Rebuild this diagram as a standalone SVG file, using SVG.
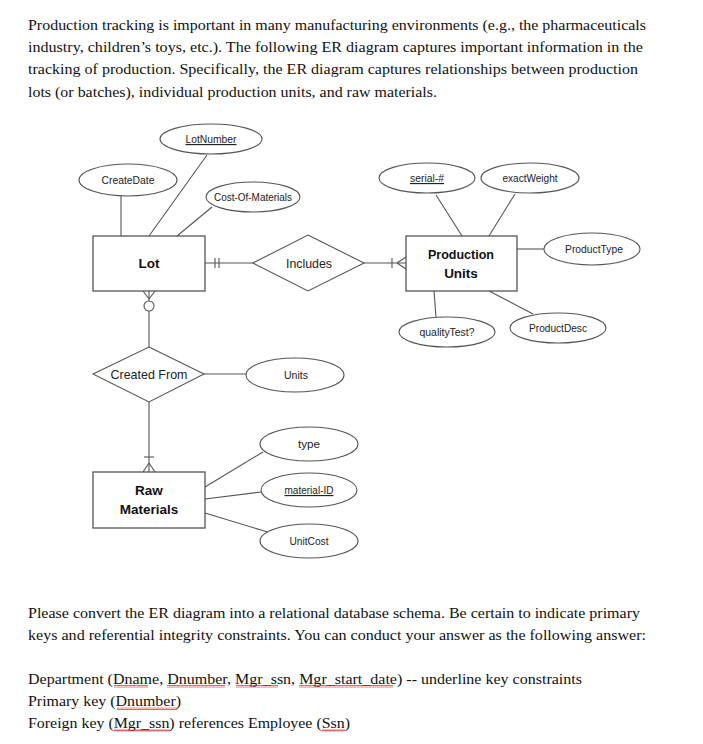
<svg xmlns="http://www.w3.org/2000/svg" width="703" height="744" viewBox="0 0 703 744">
<style>
.para{font-family:"Liberation Serif","Times New Roman",serif;font-size:15px;fill:#111}
.attr{fill:#fff;stroke:#555;stroke-width:1.1}
.ent{fill:#fff;stroke:#555;stroke-width:1.3}
.rel{fill:#fff;stroke:#555;stroke-width:1.1}
.conn line,.conn path{stroke:#555;stroke-width:1.1;fill:none}
.conn circle{fill:#fff;stroke:#555;stroke-width:1.1}
.at{font-family:"Liberation Sans",Arial,sans-serif;font-size:11.5px;fill:#222;text-anchor:middle}
.key{text-decoration:underline}
.et{font-family:"Liberation Sans",Arial,sans-serif;font-size:13.5px;font-weight:bold;fill:#111;text-anchor:middle}
.rt{font-family:"Liberation Sans",Arial,sans-serif;font-size:13px;fill:#222;text-anchor:middle}
.sq{fill:url(#squig)}
</style>
<defs>
<pattern id="squig" width="4" height="3" patternUnits="userSpaceOnUse">
<path d="M0 2.5 L1 0.5 L2 2.5 L3 0.5 L4 2.5" fill="none" stroke="#e02020" stroke-width="0.7"/>
</pattern>
</defs>
<rect width="703" height="744" fill="#fff"/>

<g id="intro">
<text class="para" x="28" y="30" textLength="618" lengthAdjust="spacingAndGlyphs">Production tracking is important in many manufacturing environments (e.g., the pharmaceuticals</text>
<text class="para" x="28" y="52" textLength="615" lengthAdjust="spacingAndGlyphs">industry, children’s toys, etc.). The following ER diagram captures important information in the</text>
<text class="para" x="28" y="74" textLength="610" lengthAdjust="spacingAndGlyphs">tracking of production. Specifically, the ER diagram captures relationships between production</text>
<text class="para" x="28" y="97" textLength="409" lengthAdjust="spacingAndGlyphs">lots (or batches), individual production units, and raw materials.</text>
</g>

<g id="connectors" class="conn">
<line x1="121" y1="196" x2="121" y2="236"/>
<line x1="207" y1="155" x2="149" y2="236"/>
<line x1="212" y1="207" x2="177" y2="236"/>
<line x1="205" y1="263" x2="253" y2="263"/>
<line x1="215" y1="258" x2="215" y2="268"/>
<line x1="219" y1="258" x2="219" y2="268"/>
<line x1="364" y1="263" x2="406" y2="263"/>
<line x1="392" y1="258" x2="392" y2="268"/>
<line x1="397" y1="263" x2="406" y2="257"/>
<line x1="397" y1="263" x2="406" y2="269"/>
<line x1="436" y1="195" x2="462" y2="236"/>
<line x1="515" y1="194" x2="489" y2="236"/>
<line x1="517" y1="249" x2="544" y2="249"/>
<line x1="434" y1="291" x2="436" y2="317"/>
<line x1="489" y1="291" x2="533" y2="314"/>
<line x1="149" y1="291" x2="149" y2="301"/>
<line x1="149" y1="299" x2="143" y2="291"/>
<line x1="149" y1="299" x2="155" y2="291"/>
<circle cx="149" cy="306" r="5"/>
<line x1="149" y1="311" x2="149" y2="347"/>
<line x1="204" y1="374" x2="246" y2="374"/>
<line x1="149" y1="402" x2="149" y2="472"/>
<line x1="144" y1="457" x2="154" y2="457"/>
<line x1="149" y1="463" x2="143" y2="472"/>
<line x1="149" y1="463" x2="155" y2="472"/>
<line x1="205" y1="487" x2="263" y2="452"/>
<line x1="205" y1="499" x2="261" y2="492"/>
<line x1="205" y1="513" x2="271" y2="533"/>
</g>

<g id="LotNumber"><ellipse class="attr" cx="211" cy="139" rx="51" ry="15"/><text class="at key" x="211" y="143" textLength="51" lengthAdjust="spacingAndGlyphs">LotNumber</text></g>
<g id="CreateDate"><ellipse class="attr" cx="128" cy="180" rx="49" ry="16"/><text class="at" x="128" y="184" textLength="53" lengthAdjust="spacingAndGlyphs">CreateDate</text></g>
<g id="CostOfMaterials"><ellipse class="attr" cx="253" cy="197" rx="47" ry="15"/><text class="at" x="253" y="201" textLength="78" lengthAdjust="spacingAndGlyphs">Cost-Of-Materials</text></g>
<g id="Lot"><rect class="ent" x="93" y="236" width="112" height="55"/><text class="et" x="149" y="268">Lot</text></g>
<g id="Includes"><polygon class="rel" points="308,235 364,263 308,291 253,263"/><text class="rt" x="309" y="268" textLength="46" lengthAdjust="spacingAndGlyphs">Includes</text></g>
<g id="ProductionUnits"><rect class="ent" x="406" y="236" width="111" height="55"/><text class="et" x="461" y="259" textLength="66" lengthAdjust="spacingAndGlyphs">Production</text><text class="et" x="461" y="278">Units</text></g>
<g id="serial"><ellipse class="attr" cx="427" cy="178" rx="48" ry="15"/><text class="at key" x="427" y="182" textLength="34" lengthAdjust="spacingAndGlyphs">serial-#</text></g>
<g id="exactWeight"><ellipse class="attr" cx="530" cy="178" rx="49" ry="15"/><text class="at" x="530" y="182" textLength="55" lengthAdjust="spacingAndGlyphs">exactWeight</text></g>
<g id="ProductType"><ellipse class="attr" cx="592" cy="249" rx="48" ry="16"/><text class="at" x="594" y="253" textLength="58" lengthAdjust="spacingAndGlyphs">ProductType</text></g>
<g id="qualityTest"><ellipse class="attr" cx="447" cy="332" rx="48" ry="15"/><text class="at" x="447" y="336" textLength="55" lengthAdjust="spacingAndGlyphs">qualityTest?</text></g>
<g id="ProductDesc"><ellipse class="attr" cx="558" cy="328" rx="48" ry="15"/><text class="at" x="558" y="332" textLength="58" lengthAdjust="spacingAndGlyphs">ProductDesc</text></g>
<g id="CreatedFrom"><polygon class="rel" points="149,347 204,374 149,402 93,374"/><text class="rt" x="149" y="379" textLength="77" lengthAdjust="spacingAndGlyphs">Created From</text></g>
<g id="Units"><ellipse class="attr" cx="295" cy="375" rx="49" ry="17"/><text class="at" x="296" y="379" textLength="24" lengthAdjust="spacingAndGlyphs">Units</text></g>
<g id="RawMaterials"><rect class="ent" x="93" y="472" width="112" height="56"/><text class="et" x="149" y="495">Raw</text><text class="et" x="149" y="514">Materials</text></g>
<g id="type"><ellipse class="attr" cx="309" cy="444" rx="49" ry="17"/><text class="at" x="309" y="448" textLength="22" lengthAdjust="spacingAndGlyphs">type</text></g>
<g id="materialID"><ellipse class="attr" cx="309" cy="490" rx="48" ry="17"/><text class="at key" x="309" y="494" textLength="49" lengthAdjust="spacingAndGlyphs">material-ID</text></g>
<g id="UnitCost"><ellipse class="attr" cx="309" cy="541" rx="49" ry="17"/><text class="at" x="309" y="545" textLength="39" lengthAdjust="spacingAndGlyphs">UnitCost</text></g>

<g id="question">
<text class="para" x="28" y="618" textLength="612" lengthAdjust="spacingAndGlyphs">Please convert the ER diagram into a relational database schema. Be certain to indicate primary</text>
<text class="para" x="28" y="640" textLength="618" lengthAdjust="spacingAndGlyphs">keys and referential integrity constraints. You can conduct your answer as the following answer:</text>
<text class="para" x="28" y="684" textLength="554" lengthAdjust="spacingAndGlyphs">Department (Dname, Dnumber, Mgr_ssn, Mgr_start_date) -- underline key constraints</text>
<text class="para" x="28" y="706" textLength="153" lengthAdjust="spacingAndGlyphs">Primary key (Dnumber)</text>
<text class="para" x="28" y="728" textLength="322" lengthAdjust="spacingAndGlyphs">Foreign key (Mgr_ssn) references Employee (Ssn)</text>
<rect class="sq" x="114" y="685" width="34" height="3"/>
<rect class="sq" x="167" y="685" width="58" height="3"/>
<rect class="sq" x="236" y="685" width="42" height="3"/>
<rect class="sq" x="299" y="685" width="94" height="3"/>
<rect class="sq" x="117" y="707" width="60" height="3"/>
<rect class="sq" x="114" y="729" width="56" height="3"/>
<rect class="sq" x="322" y="729" width="23" height="3"/>
</g>
</svg>
